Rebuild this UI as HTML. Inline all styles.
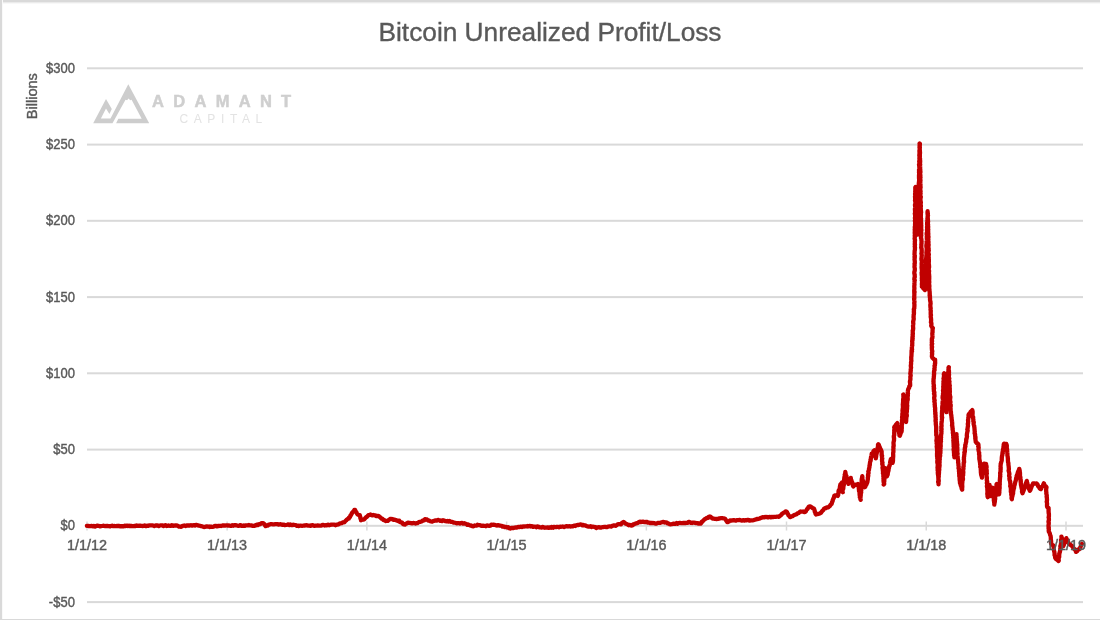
<!DOCTYPE html>
<html><head><meta charset="utf-8">
<style>
html,body{margin:0;padding:0;background:#fff;}
body{width:1100px;height:620px;overflow:hidden;position:relative;}
svg{position:absolute;left:0;top:0;will-change:transform;}
.ax{font-family:"Liberation Sans",sans-serif;font-size:14px;fill:#595959;stroke:#595959;stroke-width:0.4px;}
.title{font-family:"Liberation Sans",sans-serif;font-size:25px;fill:#595959;stroke:#595959;stroke-width:0.35px;}
.logo1{font-family:"Liberation Sans",sans-serif;font-weight:bold;font-size:16.5px;fill:#cfcfcf;stroke:#cfcfcf;stroke-width:0.5px;letter-spacing:9.3px;}
.logo2{font-family:"Liberation Sans",sans-serif;font-size:12px;fill:#e3e3e3;letter-spacing:5.6px;}
</style></head>
<body>
<svg width="1100" height="620" viewBox="0 0 1100 620">
<rect x="0" y="0" width="1100" height="620" fill="#fff"/>
<rect x="0" y="0" width="1100" height="2" fill="#d9d9d9"/><rect x="0" y="2" width="1100" height="1" fill="#ebebeb"/><rect x="0" y="3" width="1100" height="1" fill="#f8f8f8"/>
<rect x="0" y="0" width="2" height="620" fill="#d9d9d9"/><rect x="2" y="0" width="1" height="620" fill="#f9f9f9"/>
<rect x="0" y="619" width="1100" height="1" fill="#d9d9d9"/>
<rect x="87" y="67.3" width="996" height="2" fill="#d9d9d9"/><rect x="87" y="143.6" width="996" height="2" fill="#d9d9d9"/><rect x="87" y="219.8" width="996" height="2" fill="#d9d9d9"/><rect x="87" y="296.1" width="996" height="2" fill="#d9d9d9"/><rect x="87" y="372.3" width="996" height="2" fill="#d9d9d9"/><rect x="87" y="448.6" width="996" height="2" fill="#d9d9d9"/><rect x="87" y="601.1" width="996" height="2" fill="#d9d9d9"/><rect x="87" y="524.8" width="996" height="2" fill="#d9d9d9"/><rect x="86.25" y="521.5" width="1.5" height="9" fill="#d9d9d9"/><rect x="226.38" y="521.5" width="1.5" height="9" fill="#d9d9d9"/><rect x="366.13" y="521.5" width="1.5" height="9" fill="#d9d9d9"/><rect x="505.88" y="521.5" width="1.5" height="9" fill="#d9d9d9"/><rect x="645.62" y="521.5" width="1.5" height="9" fill="#d9d9d9"/><rect x="785.75" y="521.5" width="1.5" height="9" fill="#d9d9d9"/><rect x="925.50" y="521.5" width="1.5" height="9" fill="#d9d9d9"/><rect x="1065.25" y="521.5" width="1.5" height="9" fill="#d9d9d9"/>

<g fill="#cdcdcd">
<path d="M93.2,123.2 L106,98.9 L111.8,109 L109.4,113.9 L106,108.6 L100.9,118.6 L110.5,118.6 L128.3,84.2 L149.2,123.2 L116.1,123.2 L118.3,118.8 L141.7,118.8 L131.6,99.8 L130.2,100.2 L128.6,98.6 L127.1,100.2 L125.5,99.8 L112.5,123.2 Z"/>
</g>
<text x="152" y="107" class="logo1">ADAMANT</text>
<text x="179.5" y="122.5" class="logo2">CAPITAL</text>

<path d="M86.9,525.9 L88.1,525.8 L89.0,526.1 L89.8,526.2 L90.8,526.1 L91.8,525.8 L93.0,526.4 L93.9,525.9 L95.1,526.5 L96.1,526.0 L97.3,525.7 L98.3,525.9 L98.9,525.8 L100.0,526.4 L101.0,526.2 L102.2,526.0 L103.2,525.7 L103.9,525.8 L105.2,526.0 L106.1,526.1 L107.1,525.9 L108.3,526.2 L109.1,526.1 L110.2,526.4 L111.3,525.8 L112.5,525.7 L113.2,526.2 L114.1,526.0 L115.0,526.1 L116.4,526.1 L117.4,525.8 L118.4,526.1 L119.3,525.9 L120.5,526.4 L121.3,526.1 L122.1,526.1 L123.4,526.4 L124.5,525.7 L125.3,526.1 L126.1,525.9 L127.2,525.6 L128.1,526.1 L129.2,525.7 L130.3,526.2 L131.2,525.8 L132.4,526.2 L133.6,526.2 L134.3,525.8 L135.3,526.2 L136.7,525.5 L137.3,525.6 L138.3,525.8 L139.5,525.6 L140.2,525.7 L141.4,525.9 L142.7,526.0 L143.5,525.9 L144.6,525.4 L145.7,526.0 L146.7,526.0 L147.5,525.7 L148.3,525.9 L149.3,525.4 L150.4,525.4 L151.5,525.3 L152.3,525.4 L153.4,525.6 L154.3,526.0 L155.6,525.4 L156.5,525.6 L157.5,525.3 L158.8,526.1 L159.6,525.7 L160.4,525.3 L161.6,525.4 L162.8,525.3 L163.4,526.0 L164.7,525.3 L165.7,525.2 L166.7,526.0 L167.9,525.8 L168.6,525.5 L169.6,525.8 L170.8,525.8 L171.8,525.2 L173.1,525.8 L174.1,525.6 L175.2,525.5 L175.9,525.6 L176.9,525.4 L177.8,525.9 L178.9,526.5 L180.2,526.6 L181.3,526.8 L182.4,526.1 L183.1,525.8 L184.2,525.5 L185.5,526.0 L186.7,525.4 L187.7,525.5 L188.4,525.3 L189.9,525.5 L190.8,525.2 L191.6,525.5 L192.7,525.5 L194.1,525.1 L194.8,525.6 L196.0,524.9 L196.7,524.9 L198.2,525.5 L198.8,525.5 L200.2,525.8 L200.9,526.2 L201.8,526.2 L203.2,526.7 L204.0,527.0 L205.0,526.9 L206.2,526.3 L206.9,526.4 L207.9,526.7 L208.9,526.5 L209.8,527.0 L210.9,526.6 L212.0,526.9 L213.0,526.8 L214.0,526.4 L215.0,525.8 L216.0,525.9 L216.8,526.4 L217.8,526.0 L219.1,526.0 L219.9,525.8 L221.0,526.0 L221.8,525.7 L222.9,525.4 L224.1,525.5 L225.0,525.6 L226.2,525.4 L227.1,525.4 L228.1,525.6 L229.1,525.4 L230.1,525.8 L231.3,525.8 L232.4,525.2 L233.3,525.8 L234.4,525.1 L235.1,525.4 L236.1,525.2 L237.2,525.6 L238.5,525.8 L239.3,525.6 L240.5,525.1 L241.7,525.9 L242.4,525.9 L243.5,525.5 L244.8,525.8 L245.5,525.4 L246.7,525.3 L247.5,525.3 L248.8,525.0 L249.8,525.4 L250.5,525.3 L251.9,525.5 L252.6,525.9 L254.0,525.9 L254.7,525.3 L255.6,525.5 L256.7,524.6 L257.8,525.0 L258.9,524.1 L259.6,524.4 L260.7,523.9 L261.5,523.1 L262.7,523.1 L263.4,523.3 L264.4,524.1 L264.9,525.2 L265.6,526.1 L266.8,525.4 L267.9,525.6 L268.7,524.6 L269.9,524.4 L270.7,524.1 L271.7,524.2 L272.9,524.3 L274.1,524.3 L275.1,524.2 L276.0,524.1 L277.0,524.1 L278.3,524.6 L279.0,524.5 L280.5,524.2 L281.4,524.5 L282.3,524.9 L283.3,524.6 L284.5,525.1 L285.4,525.0 L286.6,524.8 L287.5,524.6 L288.3,524.4 L289.4,525.0 L290.5,524.5 L291.5,525.1 L292.9,525.0 L293.6,524.7 L294.7,525.0 L295.7,525.2 L296.8,525.8 L298.2,525.6 L298.8,526.1 L299.9,525.7 L300.8,525.7 L302.1,525.8 L303.0,525.7 L303.9,525.5 L305.0,525.6 L306.0,525.2 L307.2,525.4 L308.3,525.7 L309.4,525.7 L310.5,525.9 L311.3,525.4 L312.7,525.2 L313.6,525.7 L314.3,525.8 L315.7,525.6 L316.7,525.7 L317.4,525.4 L318.7,525.7 L319.9,525.6 L320.8,525.7 L321.9,525.4 L322.7,524.8 L323.7,525.1 L324.7,525.5 L326.0,525.2 L327.1,525.3 L328.1,524.6 L329.2,525.3 L330.1,525.0 L331.3,524.6 L332.3,524.7 L333.1,524.7 L334.4,524.6 L335.5,525.3 L336.4,524.7 L337.4,524.7 L338.6,524.3 L339.6,523.5 L340.3,523.3 L341.7,523.1 L342.6,522.5 L343.4,522.4 L344.5,522.1 L345.4,521.0 L346.2,520.4 L347.0,519.4 L348.0,518.7 L348.9,518.7 L349.0,517.4 L350.0,517.0 L350.4,515.5 L350.9,515.2 L351.5,514.0 L352.0,513.0 L353.0,511.8 L353.5,511.3 L354.1,510.6 L354.4,509.9 L355.1,510.0 L355.5,511.3 L356.3,512.0 L356.7,512.9 L357.4,514.2 L358.3,514.9 L359.8,515.1 L360.1,516.6 L360.4,517.3 L360.4,518.4 L361.0,519.6 L361.0,520.4 L362.1,519.5 L363.1,519.7 L364.3,519.2 L365.4,518.1 L366.2,517.1 L366.9,516.9 L367.9,515.8 L368.5,515.0 L369.7,514.8 L370.6,514.5 L371.6,515.1 L372.6,515.4 L373.4,515.0 L374.8,515.3 L375.6,515.6 L376.5,516.2 L377.9,515.9 L378.8,516.1 L379.6,516.9 L380.4,517.3 L381.3,518.6 L382.3,518.6 L383.5,520.0 L384.1,519.9 L384.9,520.5 L385.9,521.1 L386.7,520.8 L387.8,520.8 L388.8,519.9 L389.5,519.4 L390.3,518.8 L391.3,519.0 L392.8,519.1 L393.6,519.8 L394.9,519.7 L395.7,520.0 L396.8,520.5 L398.2,521.1 L399.2,520.7 L399.7,521.9 L401.2,522.3 L402.0,522.5 L402.9,523.9 L404.1,524.4 L405.1,524.5 L405.7,523.7 L406.8,523.4 L408.0,522.7 L409.0,522.9 L410.0,522.8 L410.8,523.2 L412.0,523.4 L413.3,523.0 L414.1,523.1 L415.5,523.6 L416.3,523.2 L417.5,523.2 L418.3,522.5 L419.4,521.8 L420.2,521.8 L421.5,521.5 L422.4,520.9 L423.0,520.3 L424.3,520.3 L425.0,519.2 L426.0,519.4 L427.0,519.5 L428.1,520.6 L428.9,520.3 L430.0,521.2 L431.2,521.5 L432.2,521.7 L433.0,521.0 L434.2,520.8 L435.1,520.4 L435.8,520.6 L436.8,520.5 L438.0,519.9 L438.9,520.2 L440.1,520.8 L440.9,520.4 L442.0,521.0 L443.0,520.2 L444.1,520.6 L445.5,521.2 L446.5,521.4 L447.7,520.9 L448.3,521.5 L449.6,521.0 L450.5,521.6 L451.4,521.9 L452.3,521.9 L453.3,522.5 L454.6,522.7 L455.7,522.8 L456.5,523.4 L457.8,523.1 L458.5,523.1 L459.8,523.6 L460.8,523.1 L462.2,522.8 L463.1,523.6 L464.3,523.2 L464.9,523.5 L466.4,524.0 L467.3,524.8 L468.1,524.5 L469.4,525.1 L470.1,525.5 L471.2,525.4 L472.0,526.1 L473.5,526.3 L474.6,525.5 L475.3,525.6 L476.8,525.7 L477.5,524.8 L478.6,525.2 L479.9,525.1 L480.9,525.7 L481.9,525.9 L482.9,525.7 L483.8,525.9 L485.0,525.8 L485.8,526.2 L486.9,525.4 L487.9,525.7 L489.2,525.9 L490.5,525.7 L491.3,524.7 L492.3,524.9 L493.7,524.7 L494.5,524.8 L495.7,525.2 L496.8,525.6 L497.8,525.1 L498.9,525.4 L499.8,525.7 L500.9,525.7 L501.6,525.9 L502.6,526.7 L503.8,526.3 L504.8,527.2 L505.9,526.8 L507.1,527.5 L508.2,527.2 L509.0,528.1 L510.2,528.5 L510.9,528.2 L512.1,527.9 L513.7,528.0 L514.8,527.6 L515.9,527.5 L516.8,527.5 L518.1,526.9 L519.0,527.2 L519.8,526.9 L520.8,526.7 L521.8,527.0 L523.0,526.5 L523.7,526.6 L525.1,526.3 L525.9,526.3 L527.1,526.5 L527.8,526.0 L528.9,526.3 L530.1,525.8 L530.9,526.5 L532.1,526.2 L533.1,526.9 L534.1,526.6 L535.2,526.6 L536.5,527.2 L537.3,526.5 L538.5,526.6 L539.2,527.3 L540.5,527.4 L541.5,527.5 L542.6,526.9 L543.4,527.4 L544.8,527.8 L545.5,527.6 L546.7,527.6 L547.6,527.4 L548.8,527.9 L549.6,527.4 L551.0,527.8 L551.7,527.0 L553.1,527.7 L553.8,526.8 L555.1,527.1 L556.1,527.2 L557.0,526.8 L558.0,526.8 L558.8,527.3 L560.1,526.6 L560.8,526.8 L561.9,526.7 L562.7,526.5 L564.0,527.0 L564.7,526.7 L566.1,526.2 L567.1,526.2 L568.0,526.5 L569.0,526.2 L569.9,526.4 L570.9,526.5 L572.0,526.2 L572.8,526.3 L574.0,525.7 L575.2,526.0 L576.1,525.3 L577.2,525.0 L578.0,525.1 L579.1,524.9 L580.3,524.3 L581.4,524.5 L582.4,525.3 L583.3,524.8 L584.3,525.3 L585.5,525.3 L586.5,526.2 L587.4,526.3 L588.1,526.6 L589.3,526.7 L590.5,526.2 L591.4,527.1 L592.1,526.7 L593.4,526.7 L594.5,527.0 L595.5,527.1 L596.3,528.0 L597.2,527.3 L598.3,527.3 L599.1,527.1 L600.1,527.6 L601.4,527.5 L602.1,527.3 L603.1,527.0 L604.4,526.8 L605.5,526.9 L606.3,527.1 L607.1,527.1 L608.4,526.5 L609.4,526.3 L610.5,526.4 L611.2,526.5 L612.3,525.9 L613.5,525.5 L614.6,525.4 L615.6,525.8 L616.7,525.2 L617.6,524.4 L618.6,524.2 L620.0,524.2 L621.0,524.4 L621.8,523.1 L623.0,522.3 L623.7,522.0 L624.7,522.7 L625.7,523.7 L626.8,524.1 L628.0,524.7 L628.8,525.3 L630.0,524.9 L631.0,525.6 L632.4,525.3 L633.1,524.5 L633.9,524.4 L635.1,523.7 L636.1,523.4 L637.2,523.2 L637.8,523.0 L638.7,522.2 L639.9,521.6 L640.7,522.1 L641.7,521.9 L643.2,521.6 L643.9,522.1 L645.1,522.1 L646.3,521.8 L647.1,521.9 L648.0,522.7 L649.4,522.7 L650.1,523.1 L651.5,522.9 L652.5,523.1 L653.3,523.0 L654.4,523.2 L655.4,523.7 L656.6,523.6 L657.6,522.9 L658.6,522.9 L659.7,522.9 L660.4,522.8 L661.8,522.3 L662.8,522.0 L663.5,522.0 L664.7,522.5 L665.7,522.3 L666.8,522.6 L667.4,523.4 L668.6,523.5 L669.6,524.1 L670.5,524.3 L671.7,524.2 L672.6,524.0 L673.7,523.6 L674.6,523.8 L675.6,523.9 L676.7,523.0 L677.7,523.8 L678.9,523.0 L679.8,522.8 L681.2,523.2 L682.3,523.2 L683.0,522.9 L684.3,523.0 L685.6,523.0 L686.3,522.9 L687.8,522.8 L688.5,522.0 L689.6,522.0 L691.0,522.8 L692.0,523.0 L693.0,522.6 L693.8,522.6 L695.2,522.8 L696.1,523.1 L697.0,523.1 L698.2,523.6 L699.3,523.4 L700.6,523.7 L701.3,523.0 L701.6,522.0 L702.5,521.5 L703.2,520.7 L704.2,519.6 L705.3,518.9 L706.2,518.4 L706.8,517.8 L708.1,517.9 L708.6,516.8 L709.8,516.5 L710.6,516.8 L711.6,517.8 L712.5,518.5 L713.4,518.5 L714.7,518.8 L715.4,518.9 L716.5,519.0 L717.8,518.9 L718.8,518.5 L719.8,518.5 L721.1,518.2 L722.1,518.1 L722.8,518.3 L724.2,518.4 L725.0,518.7 L725.5,519.3 L726.2,520.6 L726.9,521.5 L727.2,522.1 L728.1,522.0 L729.3,521.3 L730.0,520.4 L731.4,520.6 L732.2,520.4 L733.7,520.2 L734.4,520.2 L735.8,520.7 L736.6,520.1 L737.7,520.2 L738.9,520.0 L739.9,520.0 L741.3,520.5 L742.0,520.7 L743.0,520.2 L744.5,520.6 L745.4,520.2 L746.2,520.4 L747.2,520.0 L748.4,519.9 L749.5,520.6 L750.7,520.3 L751.7,520.3 L752.5,520.4 L753.7,520.2 L754.9,519.6 L755.8,519.6 L756.7,518.9 L757.9,519.1 L759.0,518.7 L760.0,518.4 L760.9,517.9 L761.8,517.7 L762.7,517.2 L764.0,517.4 L765.0,517.0 L765.9,517.1 L767.0,517.0 L768.0,517.4 L768.7,517.1 L770.0,516.8 L770.9,517.3 L771.7,516.9 L772.7,517.1 L774.1,516.8 L774.7,516.8 L775.9,516.8 L776.9,516.7 L778.1,516.6 L778.9,516.9 L779.6,516.1 L780.5,515.5 L781.1,515.1 L782.1,513.7 L782.8,513.4 L783.5,512.8 L784.5,512.5 L785.3,511.5 L786.1,511.3 L787.0,512.1 L787.3,513.3 L787.9,513.7 L788.4,515.2 L789.4,516.1 L789.8,517.0 L790.6,517.0 L791.6,516.3 L792.8,516.1 L793.6,515.3 L794.5,514.8 L795.6,514.6 L796.6,514.2 L797.2,513.6 L798.1,513.0 L798.7,512.9 L799.7,511.9 L800.6,511.5 L801.8,511.7 L803.0,511.5 L804.2,512.0 L804.9,512.1 L805.9,511.3 L806.2,510.5 L807.1,509.0 L807.4,509.1 L808.3,507.6 L808.7,506.8 L809.4,506.5 L810.5,506.5 L811.9,507.5 L812.6,508.1 L813.9,508.5 L814.3,509.6 L814.7,510.7 L814.7,511.6 L815.3,512.8 L815.6,514.0 L816.0,514.5 L817.1,514.1 L818.4,513.8 L819.6,513.7 L820.3,513.1 L821.1,512.6 L821.6,511.8 L822.5,510.7 L823.3,510.1 L823.9,508.8 L825.2,508.0 L826.0,508.1 L826.7,507.5 L828.0,507.4 L828.7,506.9 L829.8,506.0 L830.8,504.5 L831.6,504.0 L831.8,503.2 L832.1,501.9 L832.6,501.2 L832.8,499.9 L833.2,499.0 L833.8,497.8 L834.2,496.9 L834.3,495.8 L834.7,495.4 L835.8,495.5 L836.7,495.4 L837.8,495.9 L838.2,495.0 L838.1,493.9 L838.7,492.8 L838.5,491.5 L838.7,490.4 L839.4,489.7 L839.5,488.9 L839.9,487.7 L839.9,486.7 L840.2,485.6 L840.4,484.2 L841.2,483.7 L842.0,482.5 L841.8,483.6 L842.2,485.5 L842.3,486.1 L842.5,487.6 L842.4,488.2 L842.4,489.5 L842.5,490.6 L842.8,492.2 L842.6,490.8 L842.7,489.4 L843.2,488.8 L843.4,487.7 L843.1,486.6 L843.5,486.1 L843.9,484.6 L843.7,483.3 L844.0,482.4 L843.8,481.2 L843.9,480.7 L844.1,480.0 L844.2,478.9 L844.4,477.1 L844.8,476.3 L844.9,475.2 L844.7,474.7 L845.2,473.7 L845.3,472.0 L845.6,473.6 L845.8,474.8 L845.9,475.9 L846.5,476.1 L846.4,477.7 L847.1,478.2 L847.1,479.8 L847.4,480.9 L847.8,481.2 L848.0,482.7 L848.4,483.9 L848.6,483.0 L849.1,482.0 L849.7,480.8 L849.9,480.2 L850.6,479.3 L850.8,477.9 L850.9,479.5 L851.5,480.4 L851.6,481.2 L852.2,482.4 L852.4,482.9 L852.6,484.4 L852.8,485.3 L853.3,486.5 L854.3,485.4 L854.9,484.9 L856.1,484.7 L857.3,484.5 L857.9,484.0 L858.4,485.0 L858.4,485.5 L858.7,487.0 L858.8,488.1 L858.8,488.4 L859.0,490.0 L859.0,491.0 L859.5,491.5 L859.5,492.9 L859.6,493.5 L859.6,495.0 L860.0,495.7 L859.8,497.1 L860.3,497.5 L860.4,499.2 L860.7,499.8 L860.6,498.9 L860.5,497.5 L860.5,496.9 L860.7,495.8 L860.8,494.8 L860.7,493.3 L861.2,492.6 L860.9,491.8 L861.3,490.4 L861.2,489.5 L861.3,488.2 L861.1,488.1 L861.6,486.6 L861.5,485.4 L861.7,484.5 L861.8,483.8 L861.8,483.0 L861.6,481.1 L861.7,480.3 L861.7,479.1 L862.0,478.9 L862.0,477.9 L862.3,476.1 L862.4,477.4 L862.3,478.9 L862.6,479.6 L863.0,481.0 L863.3,481.5 L863.4,482.3 L863.9,484.1 L863.7,484.2 L863.9,485.5 L864.5,487.0 L864.7,487.3 L865.1,487.0 L865.5,486.3 L865.6,484.6 L866.5,484.4 L866.9,482.9 L867.3,482.4 L867.5,481.1 L867.7,479.9 L867.9,478.8 L867.8,477.7 L868.1,476.6 L868.3,475.6 L868.0,475.2 L868.2,474.1 L868.6,473.0 L868.3,471.6 L868.5,471.0 L869.0,469.7 L869.0,468.5 L869.4,467.6 L869.5,466.4 L869.5,465.3 L869.9,464.8 L869.8,464.1 L870.0,462.7 L870.2,461.6 L870.7,460.6 L870.5,459.8 L870.8,459.2 L870.9,458.3 L871.0,457.2 L871.5,455.6 L871.6,454.7 L871.7,453.6 L872.3,453.5 L873.2,452.6 L873.4,451.2 L874.4,450.2 L874.5,451.4 L874.8,452.2 L875.0,453.5 L874.8,454.2 L875.4,455.7 L875.2,456.6 L875.8,457.4 L875.8,458.4 L875.8,457.9 L876.2,456.4 L876.1,455.2 L876.5,454.6 L876.5,453.3 L876.9,452.7 L877.2,451.5 L877.0,450.0 L877.5,449.3 L877.6,447.9 L877.8,447.2 L878.0,446.6 L878.0,444.8 L878.4,444.2 L878.9,444.9 L879.0,446.3 L879.5,446.6 L880.0,447.9 L880.3,448.8 L881.0,449.7 L881.3,450.8 L881.7,452.0 L881.6,452.8 L881.7,453.9 L881.6,455.0 L882.1,455.7 L881.9,456.8 L882.0,457.4 L882.3,458.6 L882.0,459.5 L882.1,461.2 L882.1,461.5 L882.5,462.7 L882.2,464.0 L882.6,465.0 L882.7,465.7 L882.8,467.2 L882.5,467.7 L882.8,469.1 L882.8,469.8 L882.9,470.8 L883.1,472.5 L882.9,473.3 L883.3,473.9 L883.4,475.6 L883.3,476.2 L883.6,477.3 L883.4,478.7 L883.7,479.2 L883.5,480.2 L883.6,481.9 L883.9,482.8 L884.0,483.8 L883.7,484.5 L884.2,483.9 L884.0,482.4 L884.3,481.4 L884.3,480.1 L884.4,479.5 L884.3,478.1 L884.8,477.7 L884.9,476.6 L885.0,475.8 L885.1,474.0 L885.1,473.2 L885.2,472.2 L885.2,471.8 L885.4,470.2 L885.4,469.3 L885.7,468.2 L885.6,469.5 L885.7,470.5 L886.3,471.4 L886.2,472.4 L886.5,473.1 L886.5,474.1 L886.8,475.4 L887.0,476.3 L887.1,475.6 L887.7,474.6 L887.8,473.7 L887.8,472.7 L888.2,471.6 L888.5,470.5 L888.6,469.3 L888.7,468.6 L889.0,467.7 L889.1,466.5 L889.7,465.4 L889.8,464.6 L889.9,464.1 L890.1,462.9 L890.3,461.3 L890.8,460.6 L890.7,459.6 L891.1,458.9 L891.3,459.5 L892.1,460.9 L892.1,461.6 L892.6,462.9 L892.8,462.0 L893.0,460.7 L893.0,459.9 L893.0,458.7 L893.1,457.9 L893.2,456.3 L893.2,455.2 L893.2,454.7 L893.1,454.1 L893.2,452.6 L893.4,452.0 L893.4,450.5 L893.3,449.6 L893.5,448.4 L893.4,447.7 L893.4,446.5 L893.7,445.9 L893.6,444.5 L893.5,443.4 L893.5,442.7 L893.8,441.2 L894.0,440.4 L894.0,439.9 L894.1,438.3 L893.9,437.9 L893.8,436.1 L894.1,435.5 L894.3,434.8 L894.2,434.0 L894.2,432.5 L894.3,431.4 L894.2,430.6 L894.3,429.9 L894.5,428.5 L894.2,427.4 L894.5,426.6 L895.2,426.0 L896.0,424.8 L896.4,424.1 L897.3,423.1 L897.3,424.5 L897.3,425.0 L897.9,426.5 L897.9,426.8 L898.3,428.3 L898.5,429.6 L898.7,430.1 L898.5,430.9 L898.9,432.1 L898.9,432.8 L899.4,434.2 L899.4,435.6 L899.8,435.7 L900.0,435.3 L900.4,434.2 L900.6,432.9 L901.4,432.1 L901.7,430.7 L901.7,430.0 L901.6,429.1 L901.8,428.4 L901.8,426.8 L901.7,425.6 L902.0,424.5 L901.8,423.5 L902.0,423.1 L902.1,422.1 L901.9,420.3 L902.3,419.6 L902.3,418.6 L902.1,417.5 L902.1,417.1 L902.4,415.5 L902.4,414.5 L902.3,414.0 L902.6,413.0 L902.6,411.7 L902.5,410.1 L902.9,409.9 L902.7,408.9 L903.0,407.3 L902.9,406.9 L902.9,405.8 L902.8,404.3 L903.1,403.1 L903.0,402.7 L903.1,401.6 L903.1,400.0 L903.2,399.0 L903.5,398.1 L903.4,396.9 L903.4,396.1 L903.4,394.8 L903.3,394.5 L903.5,395.0 L903.5,396.1 L903.7,396.9 L904.0,398.2 L903.8,399.5 L903.9,400.1 L904.4,401.0 L904.3,402.7 L904.6,403.1 L904.4,404.7 L904.5,405.9 L904.6,406.9 L904.8,407.3 L904.9,408.2 L905.1,409.4 L905.3,410.7 L905.1,411.4 L905.4,412.4 L905.6,413.4 L905.5,414.8 L905.5,416.0 L905.6,416.9 L905.8,417.6 L905.8,418.4 L905.8,420.2 L906.0,421.0 L906.0,422.0 L906.2,420.9 L906.2,419.5 L906.3,418.6 L906.3,418.0 L906.4,416.8 L906.8,416.1 L906.8,415.1 L906.5,413.6 L906.5,412.9 L906.9,411.6 L906.8,410.9 L907.0,409.5 L907.1,408.6 L907.1,407.4 L906.9,407.1 L907.3,405.9 L907.0,404.3 L907.1,403.4 L907.2,402.6 L907.2,401.5 L907.5,400.3 L907.7,399.7 L907.7,398.4 L907.6,397.8 L907.6,396.1 L907.9,395.8 L907.7,394.2 L908.0,393.6 L907.7,392.3 L907.8,391.8 L907.9,390.9 L908.2,389.1 L908.6,388.5 L909.1,387.9 L909.3,386.4 L910.1,385.7 L910.2,385.0 L910.1,384.1 L910.1,382.7 L909.9,381.9 L910.1,380.7 L910.4,379.4 L910.4,378.3 L910.4,377.9 L910.3,376.7 L910.7,375.7 L910.5,374.4 L910.3,373.5 L910.6,372.3 L910.6,371.2 L910.8,370.7 L910.7,369.3 L910.9,368.4 L911.1,367.3 L910.9,366.8 L910.8,365.5 L911.0,364.7 L911.1,363.6 L911.0,362.5 L911.3,361.3 L911.4,360.7 L911.2,359.1 L911.3,358.1 L911.2,357.1 L911.4,356.5 L911.5,354.9 L911.5,354.2 L911.6,352.9 L911.5,351.8 L912.0,351.4 L911.6,350.4 L912.1,349.2 L911.8,348.1 L912.0,346.8 L912.1,345.7 L912.3,345.2 L912.2,344.5 L912.3,342.8 L912.2,341.7 L912.1,341.3 L912.6,339.8 L912.3,339.1 L912.7,338.4 L912.4,337.3 L912.8,336.2 L912.6,334.7 L912.9,333.8 L912.7,333.0 L912.8,332.3 L912.7,330.6 L913.0,330.1 L913.1,329.2 L913.2,328.4 L913.1,327.0 L913.0,325.8 L913.2,324.6 L913.3,323.7 L913.3,323.4 L913.1,321.6 L913.4,320.7 L913.6,319.6 L913.7,319.3 L913.7,317.9 L913.5,317.1 L913.7,315.9 L913.6,314.9 L913.9,314.3 L914.0,312.7 L913.8,311.9 L914.0,310.9 L913.8,309.6 L913.9,309.0 L914.3,308.4 L914.3,307.4 L914.4,306.1 L914.4,304.6 L914.4,304.1 L914.2,303.1 L914.5,302.0 L914.4,300.8 L914.3,300.3 L914.1,298.7 L914.4,297.9 L914.2,297.1 L914.3,296.1 L914.3,295.0 L914.4,293.9 L914.2,292.7 L914.6,292.0 L914.2,291.3 L914.3,289.6 L914.4,288.8 L914.4,288.0 L914.3,287.0 L914.3,286.0 L914.5,284.6 L914.4,283.6 L914.4,283.3 L914.5,282.2 L914.6,280.6 L914.8,280.2 L914.3,279.3 L914.5,277.7 L914.8,277.0 L914.7,275.6 L914.7,274.6 L914.4,273.8 L914.3,273.0 L914.4,271.8 L914.7,270.9 L914.8,270.1 L914.8,269.0 L914.8,268.3 L914.5,267.2 L914.5,266.2 L914.7,265.2 L914.5,263.8 L914.8,263.3 L914.8,261.5 L914.7,260.6 L914.7,260.2 L914.5,259.3 L914.8,257.7 L914.5,256.9 L914.9,256.0 L914.5,254.5 L914.5,254.2 L914.6,253.0 L914.6,252.1 L914.7,250.6 L914.9,249.9 L914.9,249.2 L915.0,247.5 L914.7,246.6 L914.8,246.2 L915.0,244.5 L914.7,244.2 L914.9,242.8 L914.8,241.6 L915.0,240.8 L915.0,240.0 L914.6,238.7 L914.7,238.2 L914.9,236.5 L914.7,235.8 L914.9,235.0 L914.8,233.7 L914.7,232.9 L914.8,231.4 L914.9,231.3 L914.7,229.6 L915.0,228.7 L914.8,227.9 L914.8,226.9 L915.0,226.3 L915.2,224.4 L915.0,224.1 L915.2,223.1 L915.1,222.0 L914.9,220.7 L915.2,220.2 L915.2,219.0 L914.9,218.1 L915.2,216.9 L915.1,215.7 L915.1,214.8 L914.8,213.7 L915.0,213.3 L915.1,211.7 L915.0,210.6 L915.0,209.5 L914.9,209.2 L915.1,207.8 L915.2,206.7 L915.0,205.4 L915.0,204.7 L915.3,203.9 L915.4,202.7 L915.4,201.9 L915.0,200.5 L915.2,200.3 L915.1,199.1 L915.2,198.2 L915.0,196.8 L915.4,195.6 L915.1,194.4 L915.1,193.6 L915.4,192.6 L915.2,191.5 L915.3,191.1 L915.3,189.5 L915.4,189.2 L915.3,187.4 L915.5,187.1 L915.3,187.5 L915.3,188.9 L915.7,190.0 L915.7,190.6 L915.5,192.1 L915.7,192.8 L915.8,193.8 L915.5,194.8 L915.6,196.0 L915.8,196.9 L916.0,197.7 L915.9,198.5 L916.2,200.1 L916.3,200.6 L916.2,202.2 L916.1,202.7 L916.1,203.7 L916.4,204.7 L916.5,206.0 L916.4,207.2 L916.5,208.3 L916.6,209.0 L916.7,209.9 L916.7,211.4 L916.8,212.0 L916.9,213.6 L916.8,214.0 L916.9,215.6 L916.7,215.8 L916.9,217.4 L917.2,218.1 L917.3,219.0 L917.3,219.9 L916.9,221.0 L917.0,222.3 L917.3,223.0 L917.6,224.2 L917.2,225.1 L917.6,226.8 L917.3,227.0 L917.7,228.2 L917.9,229.4 L917.7,230.3 L917.9,231.4 L917.7,232.8 L917.6,233.7 L917.7,234.6 L917.9,233.8 L917.7,232.6 L917.9,231.9 L918.2,230.6 L917.9,229.3 L917.9,228.4 L917.9,227.2 L918.2,226.6 L918.0,225.9 L918.0,224.5 L917.9,223.8 L918.3,222.3 L918.3,221.7 L918.1,220.3 L918.2,219.8 L918.0,218.6 L918.3,217.4 L918.3,216.8 L918.1,215.8 L918.2,214.7 L918.5,213.1 L918.5,212.9 L918.3,211.0 L918.2,210.8 L918.1,209.8 L918.2,208.6 L918.2,207.1 L918.5,206.0 L918.4,205.8 L918.6,204.7 L918.8,203.0 L918.4,202.7 L918.6,201.0 L918.6,200.1 L918.6,199.0 L918.4,198.8 L918.5,197.7 L918.5,196.4 L918.5,195.3 L918.5,194.5 L918.5,193.6 L918.7,192.0 L918.7,191.4 L919.0,190.2 L918.6,189.8 L919.0,188.6 L918.7,187.1 L918.7,186.0 L918.6,185.3 L918.8,184.4 L918.8,182.9 L919.0,182.5 L919.0,181.4 L919.1,180.8 L919.2,179.5 L919.0,178.2 L919.0,177.7 L919.0,176.2 L919.0,175.0 L919.3,173.9 L919.2,173.7 L919.0,172.4 L919.1,171.1 L919.0,169.9 L919.4,169.5 L919.4,167.9 L919.3,167.1 L919.3,166.3 L919.2,165.7 L919.0,164.5 L919.5,163.3 L919.4,162.7 L919.2,161.4 L919.5,160.1 L919.5,159.2 L919.4,158.4 L919.5,157.1 L919.5,156.3 L919.3,155.3 L919.4,154.6 L919.5,153.4 L919.5,152.2 L919.4,150.9 L919.8,150.2 L919.6,149.2 L919.8,148.0 L919.5,147.5 L919.6,146.3 L919.8,145.6 L919.9,143.8 L919.6,143.5 L919.9,143.9 L919.6,145.0 L919.6,146.1 L919.9,147.2 L919.8,147.9 L919.7,149.7 L919.9,150.2 L919.8,151.5 L920.0,151.9 L920.0,153.1 L919.9,154.0 L919.8,155.1 L919.9,155.8 L919.8,157.3 L919.7,158.0 L920.1,159.1 L919.9,160.0 L920.2,160.9 L920.1,162.6 L919.9,163.2 L920.2,164.4 L920.0,164.9 L920.1,166.2 L920.2,167.1 L920.1,168.4 L920.3,169.2 L920.1,170.4 L920.4,171.0 L920.4,172.5 L920.1,173.5 L920.1,173.9 L920.4,175.2 L920.3,176.3 L920.5,177.6 L920.1,178.4 L920.3,179.3 L920.5,180.3 L920.3,181.7 L920.3,182.4 L920.4,183.7 L920.5,184.6 L920.4,185.0 L920.5,186.4 L920.6,187.6 L920.3,188.1 L920.3,189.7 L920.3,190.0 L920.6,191.5 L920.3,192.6 L920.6,193.4 L920.3,194.6 L920.5,195.5 L920.8,196.7 L920.8,197.1 L920.5,198.4 L920.4,199.9 L920.5,200.2 L920.6,201.2 L920.9,202.5 L920.7,203.4 L920.5,204.3 L920.9,205.7 L920.9,206.2 L920.6,207.1 L920.8,208.4 L920.8,209.5 L920.9,210.4 L921.0,211.2 L921.1,212.5 L920.7,213.3 L920.9,214.4 L920.9,215.3 L920.8,216.8 L920.8,217.7 L921.1,218.6 L921.0,219.9 L921.0,220.9 L920.8,221.5 L921.1,222.1 L921.2,223.2 L921.1,224.3 L921.3,225.6 L921.2,226.5 L921.2,227.7 L921.0,228.3 L921.3,229.2 L921.4,230.3 L921.0,231.2 L921.3,233.0 L921.2,233.7 L921.1,234.9 L921.3,235.3 L921.0,236.8 L921.0,237.9 L921.2,238.4 L921.4,239.4 L921.4,240.3 L921.6,241.5 L921.5,242.3 L921.5,244.1 L921.3,244.2 L921.4,245.8 L921.3,246.7 L921.2,247.6 L921.6,248.6 L921.6,249.3 L921.7,250.3 L921.7,252.1 L921.7,252.7 L921.4,253.5 L921.7,254.7 L921.8,255.3 L921.6,257.0 L921.7,257.7 L921.4,258.4 L921.5,260.0 L921.8,260.4 L921.9,261.3 L921.7,263.1 L921.6,264.1 L921.8,264.3 L921.7,265.7 L921.6,266.9 L921.6,268.0 L921.7,268.3 L921.8,269.4 L921.9,271.0 L921.9,271.7 L921.6,272.8 L921.7,273.9 L921.7,274.8 L921.8,275.6 L922.0,276.5 L921.8,278.2 L921.9,279.1 L922.2,279.8 L921.8,280.4 L922.2,281.4 L922.0,282.8 L921.9,283.8 L921.9,284.8 L922.1,285.7 L921.9,286.7 L922.7,287.2 L923.5,288.6 L924.4,289.3 L924.9,290.1 L925.1,289.0 L925.2,287.9 L925.1,286.9 L925.1,285.5 L925.0,284.6 L925.3,283.5 L925.5,282.3 L925.4,281.4 L925.4,280.9 L925.5,279.3 L925.3,278.7 L925.7,277.2 L925.6,276.8 L925.7,275.5 L925.8,274.6 L925.8,273.2 L925.9,272.5 L925.7,271.2 L925.6,270.8 L925.9,269.3 L925.7,268.3 L925.7,267.3 L925.8,267.0 L926.1,265.8 L925.9,264.6 L926.1,263.9 L926.1,262.7 L925.9,261.7 L926.2,260.8 L925.9,259.7 L926.1,258.2 L926.4,257.7 L926.3,256.2 L926.4,255.9 L926.5,254.7 L926.5,253.8 L926.4,252.5 L926.5,251.8 L926.6,250.3 L926.7,249.5 L926.7,248.1 L926.7,247.7 L926.4,246.8 L926.4,245.2 L926.6,244.2 L926.6,243.8 L926.8,242.6 L926.6,241.7 L926.9,240.6 L927.0,239.7 L926.8,238.1 L926.9,237.7 L926.8,236.5 L927.1,235.7 L926.7,234.4 L926.7,233.1 L927.2,232.3 L927.1,231.4 L927.0,230.1 L927.0,229.7 L927.2,228.2 L927.0,227.2 L927.3,226.3 L927.3,225.6 L927.1,224.5 L927.1,223.7 L927.2,222.2 L927.6,221.2 L927.3,220.7 L927.5,219.7 L927.4,218.3 L927.7,217.3 L927.8,216.0 L927.7,215.0 L927.6,213.9 L927.5,213.7 L927.6,212.6 L927.6,211.2 L927.5,212.4 L927.9,213.3 L927.7,214.7 L928.0,215.5 L927.6,216.5 L927.8,217.8 L927.8,218.5 L927.9,219.3 L927.9,220.5 L928.1,221.4 L927.9,222.8 L927.7,223.7 L928.1,224.5 L928.0,225.7 L928.2,226.6 L928.2,227.0 L928.0,228.1 L928.3,229.8 L927.9,230.5 L928.2,231.1 L928.1,232.7 L928.3,233.3 L928.3,234.3 L928.2,235.4 L928.5,236.7 L928.4,237.7 L928.2,239.0 L928.4,239.7 L928.2,240.3 L928.4,241.9 L928.5,242.4 L928.2,243.6 L928.6,244.3 L928.6,245.3 L928.4,246.2 L928.4,247.5 L928.7,249.0 L928.4,249.5 L928.8,250.4 L928.5,251.6 L928.4,252.5 L928.6,253.6 L928.9,254.5 L928.5,256.1 L928.7,257.0 L928.8,258.0 L928.6,258.4 L928.9,259.7 L928.8,260.9 L928.9,261.5 L928.7,263.1 L928.8,263.6 L928.9,264.6 L929.0,265.4 L929.1,266.9 L928.8,268.2 L928.8,268.6 L928.7,269.9 L929.1,271.0 L929.0,272.1 L928.8,272.7 L929.1,274.3 L929.1,275.0 L929.2,275.8 L929.3,277.1 L929.1,277.8 L929.3,278.8 L929.0,280.2 L929.2,280.9 L929.3,282.3 L929.1,282.8 L929.1,283.9 L929.3,285.3 L929.4,286.0 L929.3,287.0 L929.2,288.3 L929.5,289.3 L929.2,290.2 L929.6,291.0 L929.7,292.4 L929.7,293.3 L929.8,294.3 L929.6,295.2 L930.0,296.1 L929.8,296.6 L930.1,298.3 L930.0,298.7 L930.0,299.6 L930.3,301.4 L930.5,301.9 L930.5,302.6 L930.6,303.8 L930.3,305.1 L930.4,305.8 L930.4,307.0 L930.7,308.3 L930.5,309.3 L930.5,309.8 L930.8,310.9 L930.7,312.1 L930.7,313.3 L930.7,314.3 L931.0,315.0 L930.7,316.3 L930.7,317.0 L930.9,317.6 L931.1,319.2 L931.1,319.9 L931.1,321.1 L930.9,322.3 L931.4,323.3 L931.4,323.8 L931.4,324.6 L931.2,325.7 L932.0,327.2 L932.9,328.0 L932.7,328.7 L932.6,329.8 L932.5,331.2 L932.6,331.9 L932.3,333.2 L932.3,333.8 L932.4,335.2 L932.5,336.2 L932.4,337.4 L932.3,338.2 L931.9,338.7 L931.8,340.3 L932.1,341.1 L931.8,341.9 L931.8,343.1 L932.2,343.8 L931.7,344.7 L931.9,346.4 L932.1,347.0 L931.8,347.6 L931.9,349.2 L932.0,350.4 L932.3,351.3 L932.1,352.3 L931.9,352.6 L932.2,354.0 L932.0,354.8 L931.9,356.4 L932.3,357.4 L932.4,357.9 L933.3,358.6 L934.4,359.6 L935.1,359.6 L935.1,361.1 L935.1,361.6 L935.2,363.3 L934.9,363.6 L935.0,365.0 L934.5,365.8 L934.7,367.3 L934.6,368.1 L934.3,368.8 L934.6,369.9 L934.1,371.1 L934.0,371.7 L934.1,373.1 L934.1,374.2 L933.9,374.6 L934.0,375.6 L933.8,376.9 L933.8,378.2 L933.5,379.1 L933.6,380.0 L933.4,381.4 L933.6,381.6 L933.5,383.4 L933.6,383.9 L933.9,385.3 L933.9,386.2 L933.6,386.6 L934.1,388.3 L933.7,388.6 L933.9,390.4 L933.9,391.2 L934.3,392.1 L934.4,392.8 L934.0,393.6 L934.4,394.6 L934.5,396.2 L934.2,397.3 L934.2,398.0 L934.3,399.3 L934.7,400.4 L934.3,401.3 L934.6,402.3 L934.7,403.1 L934.8,404.3 L934.6,404.6 L934.9,405.8 L934.8,406.6 L935.1,407.6 L935.2,409.3 L935.0,409.7 L935.2,410.7 L935.1,411.6 L935.5,413.0 L935.2,413.6 L935.5,415.3 L935.6,415.6 L935.4,416.8 L935.7,417.7 L935.6,419.4 L935.8,419.6 L935.5,420.7 L935.8,422.1 L935.8,423.0 L935.8,424.1 L936.0,425.4 L936.1,426.3 L936.2,427.3 L936.2,427.6 L936.2,429.3 L936.2,430.3 L936.1,431.4 L936.3,432.2 L936.2,432.8 L936.3,433.9 L936.2,435.0 L936.7,436.2 L936.7,437.3 L936.7,438.5 L936.7,438.8 L936.5,440.0 L936.4,440.8 L936.9,442.4 L936.6,443.3 L936.9,444.4 L937.0,445.1 L936.7,446.4 L936.8,447.2 L936.9,448.1 L937.2,448.8 L937.0,450.2 L937.1,451.5 L937.1,452.5 L937.2,453.5 L937.0,453.8 L937.1,455.5 L937.0,455.9 L937.4,457.5 L937.2,458.0 L937.5,459.3 L937.5,460.3 L937.3,460.9 L937.3,462.3 L937.4,462.9 L937.8,464.3 L937.7,465.3 L937.7,466.3 L937.6,466.7 L937.5,467.7 L937.7,468.8 L937.6,470.1 L938.1,471.3 L937.8,472.4 L937.8,472.8 L937.9,474.1 L938.1,475.1 L938.2,475.8 L938.3,477.0 L938.3,477.8 L938.4,478.9 L938.4,480.5 L938.4,481.0 L938.1,481.9 L938.6,482.9 L938.5,484.3 L938.5,482.9 L938.3,481.8 L938.8,481.0 L938.7,480.2 L938.5,478.7 L938.5,478.4 L938.6,477.5 L938.8,476.3 L938.7,475.3 L938.9,473.9 L939.0,472.7 L939.0,472.3 L939.0,470.9 L939.3,469.7 L939.1,468.7 L939.3,467.8 L939.4,466.9 L939.6,465.5 L939.6,465.2 L939.4,463.4 L939.6,462.5 L939.6,462.0 L939.5,460.5 L939.8,459.5 L939.7,458.7 L939.7,457.4 L939.9,456.7 L940.2,455.8 L939.9,454.4 L940.2,453.7 L940.4,453.1 L940.4,451.3 L940.5,450.6 L940.2,449.3 L940.6,448.3 L940.3,447.4 L940.7,446.5 L940.7,445.2 L940.6,444.4 L940.6,443.6 L940.7,442.2 L941.0,441.5 L940.7,440.1 L941.0,439.5 L940.7,438.5 L941.1,437.5 L940.9,436.5 L941.1,435.6 L940.9,434.8 L941.4,433.7 L941.4,432.4 L941.5,431.2 L941.2,430.6 L941.6,429.1 L941.3,428.1 L941.4,427.2 L941.3,426.7 L941.6,425.9 L941.5,424.7 L941.4,423.9 L941.6,422.5 L941.7,421.9 L941.8,420.9 L941.9,419.2 L942.0,418.2 L942.2,417.5 L941.8,416.9 L941.9,415.4 L942.0,414.7 L941.9,413.4 L942.0,412.8 L942.0,411.6 L942.1,410.5 L942.3,409.7 L942.2,408.3 L942.2,407.9 L942.3,406.2 L942.5,405.6 L942.7,404.1 L942.5,403.2 L942.7,402.5 L942.6,401.8 L942.8,400.8 L943.0,399.3 L943.0,398.4 L942.6,397.9 L942.7,396.1 L942.9,395.3 L943.2,394.8 L943.0,393.5 L943.3,392.8 L943.2,391.5 L943.0,390.3 L943.3,389.6 L943.4,388.9 L943.6,387.2 L943.2,386.9 L943.5,385.2 L943.6,384.3 L943.4,383.4 L943.6,382.7 L943.4,381.7 L943.7,380.5 L943.8,379.8 L943.5,378.5 L943.9,377.7 L943.9,376.2 L944.1,375.8 L943.8,374.4 L944.2,373.2 L944.0,374.9 L944.3,375.3 L944.3,376.4 L944.3,377.8 L944.1,378.3 L944.2,379.4 L944.2,380.3 L944.4,381.5 L944.3,382.7 L944.8,383.7 L944.6,384.8 L944.7,385.4 L944.8,386.2 L944.9,387.4 L944.8,389.1 L945.1,390.0 L945.1,390.8 L945.2,392.2 L945.0,393.0 L945.1,393.5 L945.4,394.9 L945.5,396.1 L945.4,396.5 L945.2,397.8 L945.6,398.6 L945.4,399.4 L945.5,401.0 L945.4,401.6 L945.6,403.1 L946.1,403.5 L945.7,405.3 L946.2,405.6 L945.9,407.0 L946.0,407.9 L946.1,408.7 L946.0,409.6 L946.1,410.6 L946.4,412.2 L946.2,411.3 L946.5,409.8 L946.4,408.7 L946.7,408.0 L946.3,406.7 L946.7,405.9 L946.8,404.7 L946.9,404.2 L946.6,403.0 L946.7,402.1 L947.0,401.2 L946.8,399.6 L947.0,399.0 L946.8,397.7 L947.1,396.6 L947.2,395.7 L947.0,394.9 L947.2,394.1 L947.0,393.1 L947.2,391.7 L947.4,391.1 L947.5,390.3 L947.3,388.7 L947.6,387.7 L947.4,386.6 L947.8,386.2 L947.8,385.3 L947.9,383.7 L947.7,383.1 L947.6,382.0 L947.7,380.5 L947.9,379.5 L948.2,379.2 L948.0,377.6 L947.9,376.9 L948.2,375.7 L948.3,374.9 L948.4,373.5 L948.1,372.7 L948.3,371.6 L948.5,370.6 L948.4,369.8 L948.6,369.1 L948.5,367.8 L948.8,367.2 L948.7,367.4 L948.7,368.9 L948.6,369.4 L949.0,371.2 L948.7,371.8 L949.0,372.6 L948.7,374.1 L949.1,374.8 L948.8,375.7 L948.9,377.3 L948.9,377.7 L949.3,378.5 L949.0,379.5 L949.1,380.9 L949.5,381.6 L949.2,383.1 L949.4,383.7 L949.3,384.6 L949.8,385.5 L949.5,387.1 L949.8,388.3 L949.7,389.3 L949.8,389.7 L949.8,391.1 L949.9,391.6 L949.7,393.3 L949.7,394.2 L949.9,394.7 L949.9,395.9 L950.3,396.6 L950.3,397.8 L950.0,399.2 L950.1,399.7 L950.2,401.2 L950.5,402.0 L950.1,403.2 L950.5,404.3 L950.7,404.8 L950.7,406.3 L950.4,406.9 L950.5,407.8 L950.6,408.6 L950.6,410.4 L950.7,411.1 L951.0,412.2 L950.8,413.4 L951.2,414.5 L951.2,415.3 L951.4,415.8 L951.4,416.9 L951.6,417.7 L951.6,418.9 L951.8,419.9 L952.0,421.4 L952.1,421.8 L952.2,423.3 L952.2,424.3 L952.0,425.5 L952.4,426.1 L952.4,427.4 L952.7,428.5 L952.5,429.0 L952.7,429.8 L952.8,430.8 L953.1,432.0 L952.8,432.8 L953.2,434.0 L953.1,435.2 L953.4,436.7 L953.2,437.5 L953.5,438.4 L953.5,439.6 L953.3,440.8 L953.5,441.1 L953.5,442.8 L953.6,443.6 L953.6,444.9 L953.7,445.4 L953.6,446.5 L954.0,447.9 L953.6,449.1 L953.6,449.8 L953.9,451.0 L953.9,451.5 L954.0,453.2 L954.2,453.8 L954.0,455.2 L954.3,455.7 L954.4,457.4 L954.3,455.9 L954.5,455.3 L954.4,453.8 L954.5,453.1 L954.6,451.9 L954.8,451.0 L954.8,450.3 L955.3,448.9 L955.3,447.5 L955.5,446.8 L955.5,446.1 L955.4,445.1 L955.4,443.3 L955.7,443.0 L956.0,442.1 L955.9,441.0 L956.0,439.3 L956.1,438.9 L956.1,437.7 L956.2,436.3 L956.4,435.5 L956.5,434.1 L956.3,435.4 L956.7,436.8 L956.5,437.3 L956.7,438.3 L956.8,439.9 L956.7,440.7 L957.0,441.8 L957.0,442.8 L956.9,443.9 L957.3,444.2 L957.3,445.6 L957.0,446.3 L957.4,447.9 L957.1,448.7 L957.4,450.2 L957.3,451.0 L957.3,451.5 L957.3,452.7 L957.6,453.6 L957.4,454.5 L957.5,455.5 L957.7,456.8 L957.7,457.8 L957.9,459.2 L958.0,460.2 L958.1,460.6 L958.2,461.5 L958.1,462.4 L958.5,464.3 L958.4,464.7 L958.5,465.7 L958.7,466.7 L958.5,468.2 L958.8,468.4 L959.1,470.1 L958.9,471.0 L959.3,471.8 L959.1,472.7 L959.2,474.0 L959.4,475.3 L959.2,475.8 L959.6,477.1 L959.6,478.0 L959.6,479.3 L959.8,479.8 L959.7,480.6 L960.1,482.2 L959.9,482.7 L960.4,483.9 L960.7,485.2 L960.9,485.9 L961.5,487.0 L961.5,487.7 L961.8,488.9 L962.2,489.6 L962.1,488.7 L962.2,488.2 L962.3,486.6 L962.3,486.1 L962.2,484.9 L962.2,483.5 L962.3,483.0 L962.4,481.5 L962.4,480.5 L962.8,479.9 L963.0,479.1 L962.9,478.1 L962.7,477.1 L962.9,475.4 L963.2,475.0 L963.0,473.3 L963.3,472.9 L963.3,472.1 L963.1,470.3 L963.2,469.3 L963.5,468.8 L963.3,467.4 L963.4,466.8 L963.7,466.1 L963.6,465.1 L963.7,463.6 L963.7,462.4 L964.1,462.1 L964.0,460.4 L963.8,459.3 L964.0,458.8 L963.9,457.7 L964.2,456.2 L964.2,455.9 L964.3,454.6 L964.5,453.7 L964.3,452.5 L964.8,451.9 L964.9,450.6 L964.7,449.3 L964.9,448.7 L964.9,447.8 L965.4,446.5 L965.2,445.8 L965.5,444.6 L965.7,443.7 L965.8,442.9 L966.2,441.8 L966.2,440.3 L966.2,439.2 L966.6,438.7 L966.7,437.7 L967.0,436.5 L966.8,435.6 L966.9,434.4 L967.0,433.6 L967.3,432.1 L967.6,430.9 L967.7,430.5 L967.3,429.5 L967.6,428.6 L967.7,427.2 L968.0,425.9 L967.9,424.9 L967.8,423.9 L968.1,423.1 L968.1,422.0 L968.2,421.3 L968.0,420.2 L968.3,418.9 L968.4,417.9 L968.3,417.5 L968.7,416.6 L968.5,415.2 L968.8,414.3 L969.3,413.7 L970.0,413.1 L970.7,411.6 L971.6,410.9 L972.3,410.1 L972.6,411.5 L972.6,412.2 L972.6,413.4 L972.5,414.8 L972.5,415.5 L972.7,416.9 L973.2,417.2 L973.1,418.6 L973.4,419.8 L973.3,421.0 L973.3,421.3 L973.8,422.3 L973.6,423.7 L973.7,424.4 L974.2,425.7 L974.2,426.5 L974.4,427.5 L974.5,428.8 L974.6,430.0 L974.6,430.8 L974.8,431.7 L974.6,433.2 L975.0,434.0 L975.1,434.6 L975.1,436.1 L975.5,437.2 L975.2,438.0 L975.5,438.8 L975.4,439.5 L975.7,440.9 L975.7,441.8 L976.6,443.0 L977.4,443.3 L978.4,444.3 L978.5,445.9 L978.2,446.5 L978.7,447.4 L978.6,448.4 L978.4,449.3 L978.6,450.4 L978.9,451.7 L979.2,452.8 L979.0,454.1 L979.2,454.7 L979.4,455.9 L979.3,456.8 L979.3,458.2 L979.4,459.2 L979.4,459.4 L979.7,460.6 L979.8,461.6 L980.1,463.1 L980.1,464.3 L980.4,465.1 L980.4,465.5 L980.2,466.9 L980.8,467.8 L980.7,468.5 L980.8,470.4 L981.0,471.3 L980.8,471.8 L981.0,473.3 L981.1,474.4 L981.3,475.4 L981.6,475.9 L981.9,477.0 L981.9,477.7 L982.1,477.5 L981.9,476.2 L982.1,474.7 L982.3,474.1 L982.8,473.3 L982.9,472.0 L982.9,470.5 L983.1,469.8 L983.1,469.1 L983.2,467.3 L983.3,466.3 L983.6,465.9 L983.6,464.5 L983.9,463.6 L985.1,464.0 L986.1,464.0 L986.3,465.2 L986.5,466.2 L986.6,467.2 L986.3,468.4 L986.4,469.3 L986.7,470.2 L986.7,471.7 L986.6,472.4 L986.9,473.5 L986.5,474.0 L986.5,475.2 L986.6,476.5 L986.8,477.2 L986.9,478.8 L986.8,479.1 L986.8,480.2 L987.2,481.6 L987.0,482.1 L986.8,483.1 L987.3,484.5 L987.0,485.5 L986.9,486.4 L987.1,487.0 L987.4,488.6 L987.3,489.1 L987.4,490.3 L987.4,491.0 L987.6,492.0 L987.3,493.3 L987.3,494.0 L987.6,495.8 L987.5,496.2 L987.7,497.2 L987.7,496.6 L987.9,495.1 L987.8,494.5 L988.4,493.8 L988.1,492.4 L988.5,491.2 L988.7,490.4 L988.9,489.3 L989.1,488.8 L989.0,487.2 L989.2,486.1 L989.4,485.7 L989.5,484.9 L989.4,485.7 L989.9,486.2 L989.8,487.2 L990.1,488.8 L990.2,489.8 L990.3,490.9 L990.4,492.1 L990.6,492.3 L990.6,493.9 L991.1,494.9 L990.9,496.1 L991.4,494.4 L991.4,493.9 L991.5,492.4 L991.8,492.1 L992.3,490.6 L992.5,490.0 L992.7,488.8 L992.9,487.8 L993.0,488.8 L992.7,489.7 L993.0,490.6 L993.0,491.7 L993.2,492.5 L993.2,493.7 L993.4,494.6 L993.6,495.4 L993.6,496.5 L993.8,497.9 L993.9,498.7 L993.8,500.1 L994.0,500.6 L994.0,501.6 L994.3,503.0 L994.3,503.9 L994.3,504.7 L994.4,503.5 L994.6,502.9 L994.9,501.4 L994.7,501.0 L995.0,499.9 L995.2,498.9 L995.1,497.3 L995.2,496.3 L995.7,495.7 L995.6,495.1 L995.8,493.5 L995.7,492.3 L996.0,491.9 L996.0,490.6 L996.0,489.7 L996.3,489.1 L996.5,488.0 L996.4,486.6 L996.5,486.1 L996.5,484.4 L996.7,484.1 L997.2,484.6 L997.5,486.2 L997.5,486.6 L997.9,487.8 L997.8,489.3 L998.2,489.9 L998.5,490.8 L998.5,492.0 L998.9,492.7 L999.1,494.4 L999.2,493.4 L999.4,491.9 L999.1,491.4 L999.5,490.0 L999.3,489.5 L999.7,488.0 L999.6,487.3 L999.6,485.8 L999.6,485.3 L999.8,484.2 L999.6,482.9 L999.8,482.1 L999.8,481.6 L999.8,480.6 L999.9,479.5 L1000.0,478.3 L1000.1,476.8 L1000.3,476.5 L1000.1,475.4 L1000.3,474.6 L1000.1,473.1 L1000.3,472.3 L1000.6,471.5 L1000.5,470.1 L1000.7,468.8 L1000.5,468.4 L1000.7,467.6 L1000.5,466.2 L1000.7,464.8 L1000.7,463.8 L1001.0,463.2 L1001.2,462.0 L1001.5,461.3 L1001.8,459.9 L1001.7,459.2 L1001.8,458.6 L1001.8,457.6 L1002.0,456.1 L1002.3,455.3 L1002.3,453.9 L1002.8,453.2 L1002.5,452.5 L1002.9,451.2 L1002.9,450.6 L1003.0,449.3 L1003.5,448.2 L1003.4,447.1 L1003.6,446.5 L1003.7,445.3 L1003.7,444.7 L1004.0,443.7 L1005.2,444.0 L1006.3,443.9 L1006.8,445.4 L1006.8,446.3 L1006.8,447.1 L1006.7,448.5 L1007.1,449.2 L1007.1,450.1 L1007.2,451.2 L1007.3,452.4 L1007.4,453.2 L1007.4,454.7 L1007.4,455.5 L1007.7,456.7 L1007.8,458.0 L1007.9,458.5 L1007.9,460.1 L1008.0,461.1 L1008.0,461.9 L1008.4,463.2 L1008.4,463.6 L1008.4,464.6 L1008.7,466.5 L1008.7,466.9 L1008.8,467.9 L1008.9,469.2 L1008.6,470.6 L1008.9,471.6 L1009.1,472.4 L1009.3,473.2 L1009.4,474.3 L1009.1,475.4 L1009.2,476.2 L1009.6,477.3 L1009.4,478.5 L1009.6,480.1 L1010.0,481.0 L1010.2,481.7 L1010.2,482.6 L1010.4,484.0 L1010.4,484.5 L1010.2,486.2 L1010.5,486.9 L1010.8,487.5 L1010.8,488.8 L1010.9,489.8 L1010.8,491.3 L1010.9,492.1 L1011.3,492.7 L1011.3,493.8 L1011.2,494.7 L1011.7,495.8 L1011.6,497.0 L1011.5,498.2 L1011.9,499.3 L1011.9,497.7 L1012.1,497.1 L1012.5,495.7 L1012.7,494.4 L1013.1,493.6 L1013.1,492.9 L1013.1,491.7 L1013.4,490.7 L1013.5,489.2 L1014.0,488.4 L1014.1,487.4 L1014.2,486.3 L1014.3,485.6 L1014.7,484.6 L1015.0,483.3 L1015.3,481.9 L1015.6,481.0 L1015.8,480.4 L1016.0,479.4 L1016.1,478.3 L1016.7,476.9 L1016.6,476.1 L1017.1,474.9 L1017.3,474.5 L1017.7,472.9 L1017.9,472.3 L1018.3,471.3 L1018.8,470.3 L1019.1,469.7 L1019.2,468.8 L1019.3,469.0 L1019.7,470.5 L1019.7,471.2 L1019.9,472.3 L1020.0,473.2 L1020.0,474.6 L1020.0,475.4 L1020.0,476.6 L1020.4,477.1 L1020.4,478.7 L1020.3,479.8 L1020.8,480.1 L1020.6,481.1 L1020.7,482.1 L1020.9,483.3 L1020.9,484.5 L1021.1,485.7 L1021.5,486.1 L1021.4,487.0 L1021.6,488.1 L1022.0,489.7 L1022.3,490.2 L1022.0,491.7 L1022.4,492.8 L1022.5,493.2 L1022.7,492.8 L1023.3,491.3 L1023.6,490.6 L1024.1,489.3 L1024.1,488.3 L1024.8,487.3 L1025.0,486.4 L1025.2,485.4 L1025.5,484.4 L1026.1,482.9 L1026.2,482.7 L1026.8,480.9 L1027.0,482.4 L1027.4,483.2 L1027.4,484.0 L1028.0,485.4 L1028.1,486.3 L1028.6,487.3 L1028.6,488.0 L1029.1,489.1 L1029.4,489.7 L1029.9,490.8 L1030.4,489.9 L1030.6,489.5 L1030.8,488.5 L1031.2,487.7 L1031.6,486.6 L1032.2,485.2 L1032.6,484.6 L1033.1,483.4 L1034.3,483.5 L1035.7,483.6 L1036.6,483.5 L1037.5,484.5 L1038.0,485.9 L1038.5,486.8 L1039.2,487.1 L1039.7,488.4 L1040.8,489.1 L1041.1,488.7 L1041.6,487.2 L1042.3,486.5 L1043.0,486.0 L1043.2,484.7 L1043.9,483.3 L1044.5,485.1 L1045.0,485.8 L1045.8,486.3 L1046.5,487.3 L1046.2,488.9 L1046.1,489.6 L1046.2,490.7 L1046.2,491.5 L1046.4,492.4 L1046.3,493.6 L1046.6,494.5 L1046.8,495.8 L1046.6,496.7 L1046.9,497.5 L1046.9,498.6 L1047.0,499.9 L1046.9,501.3 L1046.7,501.6 L1047.0,503.1 L1047.1,503.8 L1047.0,504.8 L1047.0,505.9 L1047.1,506.9 L1048.6,508.0 L1048.5,509.2 L1048.7,509.7 L1048.5,511.0 L1048.7,512.2 L1048.6,512.9 L1048.9,513.8 L1048.9,515.4 L1048.9,516.4 L1048.6,517.3 L1048.8,517.8 L1048.9,519.2 L1048.9,520.2 L1048.5,521.5 L1048.5,521.9 L1048.8,522.9 L1048.7,524.4 L1048.5,525.3 L1048.5,526.2 L1048.8,527.4 L1048.5,528.0 L1048.9,529.2 L1048.7,530.2 L1048.8,531.5 L1049.3,532.3 L1049.8,533.4 L1050.1,534.9 L1050.6,535.9 L1050.7,536.7 L1050.8,537.6 L1050.8,539.1 L1051.0,540.4 L1051.1,541.0 L1051.1,542.3 L1051.0,543.3 L1052.0,544.5 L1052.9,545.2 L1053.3,545.5 L1053.7,546.5 L1053.7,547.5 L1053.8,549.0 L1053.9,550.1 L1054.1,551.2 L1054.3,551.6 L1054.4,552.4 L1054.6,553.8 L1054.5,555.2 L1054.9,555.4 L1055.3,556.6 L1055.1,557.5 L1055.8,558.9 L1056.8,559.5 L1057.5,560.1 L1058.6,561.0 L1058.8,560.4 L1058.5,559.3 L1058.6,558.1 L1059.2,557.1 L1059.2,556.1 L1059.2,554.8 L1059.4,553.7 L1059.5,552.9 L1059.9,551.9 L1060.1,550.7 L1060.3,549.8 L1060.3,548.3 L1060.6,547.3 L1060.3,546.2 L1060.7,545.7 L1060.8,544.4 L1061.1,543.5 L1061.0,542.1 L1061.2,541.0 L1061.0,540.2 L1061.5,538.8 L1061.6,538.3 L1061.4,536.6 L1061.8,537.7 L1062.2,539.3 L1062.1,540.1 L1062.4,540.6 L1062.7,541.6 L1062.5,542.8 L1062.6,543.8 L1063.0,545.2 L1063.2,546.1 L1063.8,545.0 L1063.9,543.8 L1064.4,543.0 L1064.9,542.2 L1065.2,541.3 L1065.9,540.1 L1066.0,539.0 L1066.3,538.1 L1066.9,539.8 L1067.4,540.8 L1067.9,541.4 L1068.1,541.9 L1068.4,543.0 L1069.0,543.8 L1070.0,544.6 L1071.0,545.2 L1071.9,546.0 L1072.9,546.8 L1073.2,547.8 L1074.3,549.1 L1074.9,549.2 L1075.6,550.7 L1076.0,551.9 L1077.1,551.2 L1077.6,550.3 L1078.5,549.4 L1079.5,549.1 L1079.7,548.1 L1080.4,547.2 L1080.8,546.3 L1081.2,544.8 L1081.4,544.4 L1081.9,543.8" fill="none" stroke="#c00000" stroke-width="4.3" stroke-linejoin="round" stroke-linecap="round"/>
<text transform="translate(74.9,72.7) scale(0.93,1)" text-anchor="end" class="ax">$300</text><text transform="translate(74.9,149.0) scale(0.93,1)" text-anchor="end" class="ax">$250</text><text transform="translate(74.9,225.2) scale(0.93,1)" text-anchor="end" class="ax">$200</text><text transform="translate(74.9,301.5) scale(0.93,1)" text-anchor="end" class="ax">$150</text><text transform="translate(74.9,377.7) scale(0.93,1)" text-anchor="end" class="ax">$100</text><text transform="translate(74.9,454.0) scale(0.93,1)" text-anchor="end" class="ax">$50</text><text transform="translate(74.9,530.2) scale(0.93,1)" text-anchor="end" class="ax">$0</text><text transform="translate(74.9,606.5) scale(0.93,1)" text-anchor="end" class="ax">-$50</text>
<text transform="translate(87.0,549.6) scale(1.03,1)" text-anchor="middle" class="ax">1/1/12</text><text transform="translate(227.1,549.6) scale(1.03,1)" text-anchor="middle" class="ax">1/1/13</text><text transform="translate(366.9,549.6) scale(1.03,1)" text-anchor="middle" class="ax">1/1/14</text><text transform="translate(506.6,549.6) scale(1.03,1)" text-anchor="middle" class="ax">1/1/15</text><text transform="translate(646.4,549.6) scale(1.03,1)" text-anchor="middle" class="ax">1/1/16</text><text transform="translate(786.5,549.6) scale(1.03,1)" text-anchor="middle" class="ax">1/1/17</text><text transform="translate(926.3,549.6) scale(1.03,1)" text-anchor="middle" class="ax">1/1/18</text><text transform="translate(1066.0,549.6) scale(1.03,1)" text-anchor="middle" class="ax">1/1/19</text>
<text x="378.5" y="40.8" textLength="343" lengthAdjust="spacingAndGlyphs" class="title">Bitcoin Unrealized Profit/Loss</text>
<text transform="translate(36.8,96.2) rotate(-90) scale(1.04,1)" text-anchor="middle" class="ax">Billions</text>
</svg>
</body></html>
